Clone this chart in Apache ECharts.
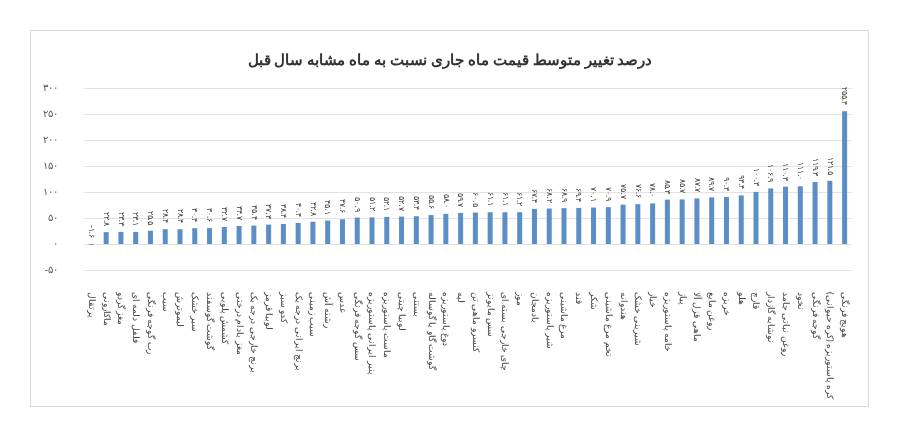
<!DOCTYPE html>
<html><head><meta charset="utf-8">
<script src="https://cdn.jsdelivr.net/npm/echarts@6/dist/echarts.min.js"></script>
<style>html,body{margin:0;padding:0;background:#fff}#box{position:absolute;left:30px;top:30px;width:837px;height:375px;border:1px solid #d9d9d9}#c{position:absolute;left:0;top:0;width:900px;height:435px}</style>
</head><body><div id="box"></div><div id="c"></div>
<script>
const title = 'درصد تغییر متوسط قیمت ماه جاری نسبت به ماه مشابه سال قبل';
const categories = ['پرتقال','ماکارونی','مغز گردو','فلفل دلمه ای','رب گوجه فرنگی','سیب','لیموترش','سیر خشک','گوشت گوسفند','کشمش پلویی','مغز بادام درختی','برنج خارجی درجه یک','لوبیا قرمز','کدو سبز','برنج ایرانی درجه یک','سیب زمینی','رشته آش','عدس','سس گوجه فرنگی','پنیر ایرانی پاستوریزه','ماست پاستوریزه','لوبیا چیتی','بستنی','گوشت گاو یا گوساله','دوغ پاستوریزه','لپه','کنسرو ماهی تن','سس مایونز','چای خارجی بسته ای','موز','بادمجان','شیر پاستوریزه','مرغ ماشینی','قند','شکر','تخم مرغ ماشینی','هندوانه','شیرینی خشک','خیار','خامه پاستوریزه','پیاز','ماهی قزل آلا','روغن مایع','خربزه','هلو','قارچ','نوشابه گازدار','روغن نباتی جامد','نخود','گوجه فرنگی','کره پاستوریزه (کره حیوانی)','هویج فرنگی'];
const values = [-1.6,22.8,23.3,23.1,25.5,28.4,28.4,30.4,30.6,32.7,34.7,35.4,37.3,38.4,40.4,42.8,45.1,
47.6,50.9,51.2,52.1,52.7,53.4,55.6,58.0,59.7,60.5,61.1,61.1,61.2,67.4,68.2,68.9,69.4,70.1,
70.9,75.7,76.6,78.0,85.3,85.7,87.7,89.7,90.3,93.4,100.3,106.9,110.3,111.0,119.3,121.5,255.4];
const yTicks = [-50,0,50,100,150,200,250,300];
const fa = s => String(s).replace(/[0-9]/g, d => '۰۱۲۳۴۵۶۷۸۹'[d]);
const chart = echarts.init(document.getElementById('c'));
chart.setOption({
  animation:false,
  title:{text:title,left:'center',top:48,textStyle:{fontFamily:'Noto Sans',fontSize:15,fontWeight:'bold',color:'#333'}},
  grid:{left:84,right:48,top:88,bottom:165,containLabel:false},
  xAxis:{type:'category',data:categories,axisLine:{show:false},axisTick:{show:false},
    axisLabel:{rotate:-90,interval:0,fontSize:9,color:'#444',fontFamily:'Noto Sans',margin:22}},
  yAxis:{type:'value',min:yTicks[0],max:yTicks[yTicks.length-1],interval:50,
    splitLine:{lineStyle:{color:'#e3e3e3'}},axisLine:{show:false},axisTick:{show:false},
    axisLabel:{formatter:v=>fa(v),fontSize:10,color:'#555',margin:26,fontFamily:'Noto Sans'}},
  series:[{type:'bar',data:values,barWidth:5,itemStyle:{color:'#5b8dc7'},
    label:{show:true,position:'top',rotate:-90,align:'right',verticalAlign:'middle',distance:6,fontSize:8,color:'#444',fontFamily:'Noto Sans',formatter:p=>fa(p.value.toFixed(1))}}]
});
</script></body></html>
